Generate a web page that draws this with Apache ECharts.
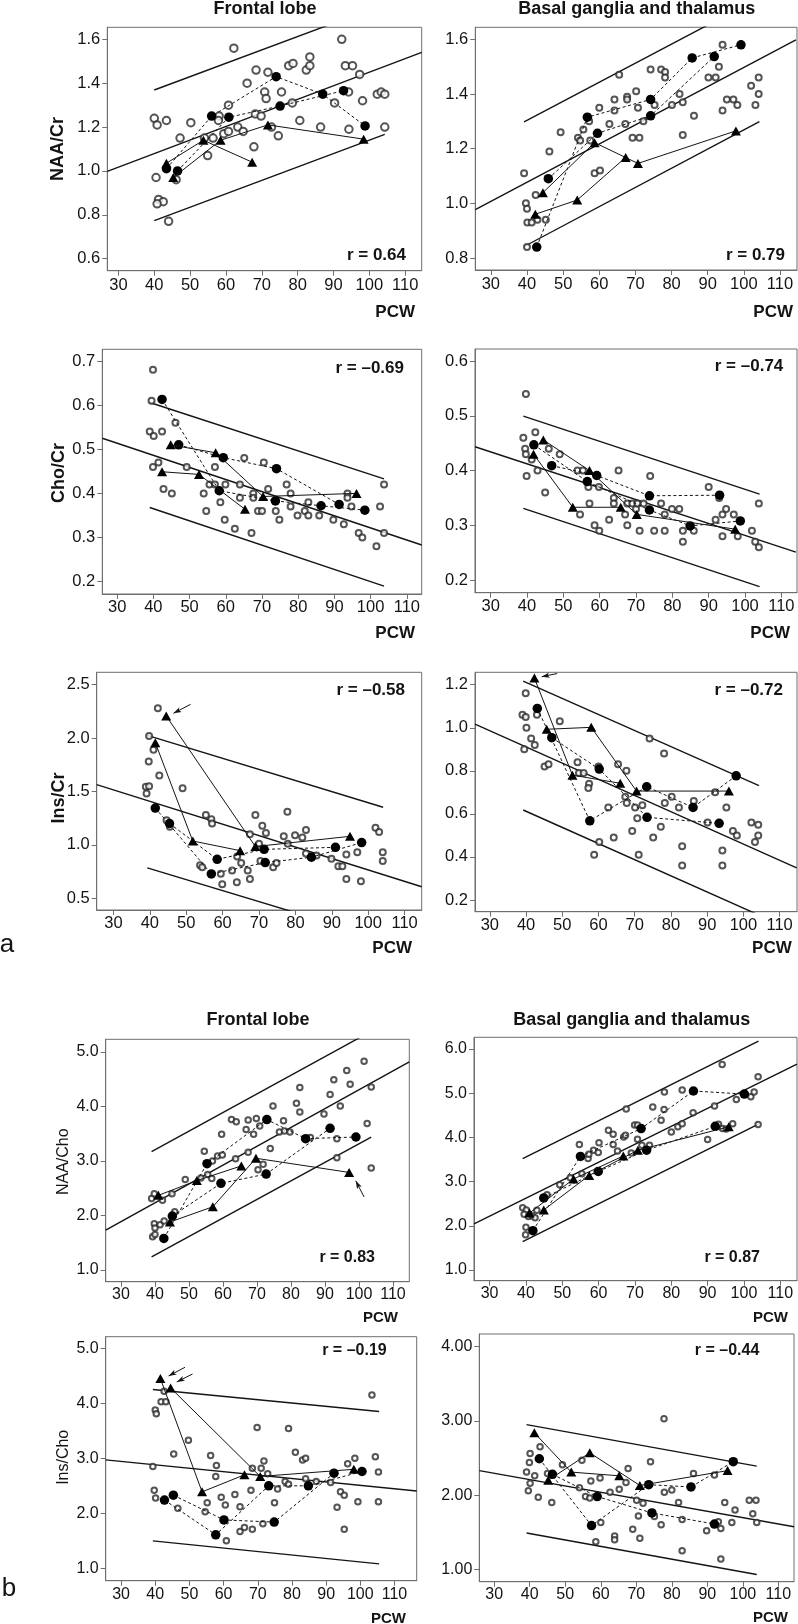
<!DOCTYPE html>
<html><head><meta charset="utf-8">
<script src="https://cdn.jsdelivr.net/npm/echarts@6/dist/echarts.min.js"></script>
<style>html,body{margin:0;padding:0;background:#fff}#c{width:798px;height:1624px}</style>
</head><body><div id="c"></div>
<script>
// ---------------- DATA ----------------
const xTicks = [30,40,50,60,70,80,90,100,110];
const yTicks1 = [0.6,0.8,1.0,1.2,1.4,1.6];
const yTicks2 = [0.8,1.0,1.2,1.4,1.6];
const yTicks3 = [0.2,0.3,0.4,0.5,0.6,0.7];
const yTicks4 = [0.2,0.3,0.4,0.5,0.6];
const yTicks5 = [0.5,1.0,1.5,2.0,2.5];
const yTicks6 = [0.2,0.4,0.6,0.8,1.0,1.2];
const yTicks7 = [1,2,3,4,5];
const yTicks8 = [1,2,3,4,5,6];
const yTicks9 = [1,2,3,4,5];
const yTicks10 = [1,2,3,4];

const titles = ['Frontal lobe','Basal ganglia and thalamus','Frontal lobe','Basal ganglia and thalamus'];
const yNames = ['NAA/Cr','Cho/Cr','Ins/Cr','NAA/Cho','Ins/Cho'];
const rTexts = ['r = 0.64','r = 0.79','r = \u20130.69','r = \u20130.74','r = \u20130.58','r = \u20130.72','r = 0.83','r = 0.87','r = \u20130.19','r = \u20130.44'];
const xName = 'PCW';
const partLabels = ['a','b'];

// Panel 1: Frontal lobe NAA/Cr
const p1Open = [[40.0,1.24],[40.8,1.21],[43.4,1.23],[47.2,1.15],[50.2,1.22],[40.5,0.97],[41.2,0.87],[42.5,0.86],[40.8,0.85],[44.0,0.77],[46.1,0.96],[54.9,1.07],[54.0,1.15],[56.4,1.15],[58.1,1.25],[57.9,1.23],[59.4,1.17],[60.7,1.18],[60.7,1.30],[63.3,1.20],[64.8,1.18],[62.2,1.56],[65.9,1.40],[68.4,1.46],[68.2,1.26],[67.8,1.11],[69.8,1.25],[70.8,1.36],[71.2,1.33],[71.7,1.45],[72.7,1.20],[74.6,1.16],[75.5,1.36],[78.5,1.31],[77.5,1.48],[78.7,1.49],[80.6,1.23],[82.4,1.46],[83.4,1.48],[83.4,1.52],[86.4,1.20],[90.3,1.31],[92.3,1.60],[93.3,1.48],[95.3,1.48],[94.2,1.36],[94.3,1.19],[97.3,1.44],[98.1,1.32],[102.2,1.35],[103.3,1.36],[104.3,1.35],[104.3,1.20]];
const p1Dashed = [[[43.4,1.01],[56.0,1.25],[74.0,1.43],[87.0,1.35],[98.8,1.205]],[[46.5,1.00],[60.8,1.245],[75.1,1.296],[92.8,1.366]]];
const p1Solid = [[[43.4,1.035],[53.7,1.14],[67.3,1.04]],[[45.3,0.97],[58.5,1.14],[71.7,1.21],[98.4,1.145]]];
const p1Fit = [[[26.9,0.998],[114.6,1.541]],[[40.0,1.369],[104.3,1.761]],[[40.0,0.773],[104.3,1.167]]];

// Panel 2: Basal ganglia NAA/Cr
const p2Open = [[39.2,1.11],[39.7,1.00],[40.0,0.98],[40.1,0.93],[41.3,0.93],[42.9,0.94],[42.4,1.03],[40.0,0.84],[45.2,0.94],[46.2,1.19],[49.3,1.26],[54.1,1.24],[54.7,1.23],[55.6,1.27],[57.2,1.30],[57.5,1.23],[60.0,1.35],[58.7,1.11],[60.2,1.12],[62.8,1.29],[64.2,1.38],[64.2,1.34],[65.5,1.47],[67.2,1.29],[67.7,1.39],[67.7,1.38],[69.2,1.24],[70.2,1.41],[70.7,1.35],[71.1,1.24],[72.2,1.30],[74.2,1.49],[75.3,1.36],[77.1,1.49],[78.2,1.48],[78.2,1.46],[80.1,1.36],[82.2,1.40],[83.1,1.37],[83.1,1.25],[86.2,1.32],[90.2,1.46],[92.2,1.46],[93.1,1.50],[94.1,1.58],[94.1,1.34],[95.3,1.38],[97.1,1.38],[98.2,1.36],[102.0,1.43],[103.2,1.36],[104.1,1.40],[104.1,1.46]];
const p2Dashed = [[[42.7,0.84],[56.7,1.315],[74.2,1.38],[85.7,1.532],[99.2,1.58]],[[45.9,1.09],[59.5,1.256],[74.2,1.32],[91.8,1.537]]];
const p2Solid = [[[44.4,1.039],[58.7,1.222],[70.7,1.146],[97.8,1.265]],[[42.3,0.96],[53.9,1.012],[67.3,1.168]]];
const p2Fit = [[[25.7,0.977],[114.4,1.598]],[[39.2,1.298],[104.3,1.752]],[[39.2,0.842],[104.3,1.299]]];

// Panel 3: Frontal lobe Cho/Cr
const p3Open = [[39.9,0.68],[39.5,0.61],[39.0,0.54],[40.1,0.53],[42.4,0.54],[39.9,0.46],[41.4,0.47],[42.8,0.41],[45.1,0.40],[46.1,0.56],[49.2,0.46],[53.9,0.40],[54.6,0.36],[55.5,0.42],[57.0,0.42],[57.0,0.46],[58.5,0.38],[59.7,0.34],[59.9,0.42],[62.5,0.32],[63.9,0.42],[63.9,0.39],[65.1,0.48],[67.1,0.31],[67.6,0.40],[67.6,0.39],[68.9,0.36],[70.0,0.36],[70.5,0.47],[71.7,0.41],[73.8,0.36],[74.8,0.34],[76.8,0.42],[77.9,0.40],[77.9,0.37],[79.8,0.35],[81.8,0.36],[82.8,0.38],[82.8,0.35],[85.8,0.35],[89.7,0.34],[92.6,0.33],[93.6,0.40],[93.6,0.39],[94.7,0.37],[96.7,0.31],[97.7,0.30],[101.6,0.28],[102.6,0.37],[103.7,0.42],[103.7,0.31]];
const p3Dashed = [[[42.4,0.613],[58.2,0.406],[73.7,0.383],[86.3,0.372],[98.4,0.362]],[[47.0,0.51],[59.3,0.481],[74.0,0.456],[91.3,0.375]]];
const p3Solid = [[[44.8,0.51],[57.2,0.492],[70.3,0.393],[96.1,0.40]],[[42.4,0.449],[52.6,0.443],[65.3,0.364]]];
const p3Fit = [[[25.9,0.525],[114.1,0.283]],[[39.0,0.606],[103.7,0.433]],[[39.0,0.368],[103.7,0.190]]];

// Panel 4: Basal ganglia Cho/Cr
const p4Open = [[39.7,0.54],[39.0,0.46],[39.5,0.44],[39.7,0.43],[41.3,0.42],[42.3,0.47],[39.9,0.39],[42.9,0.40],[45.0,0.36],[46.0,0.44],[49.0,0.43],[53.9,0.40],[55.4,0.40],[54.6,0.32],[56.9,0.37],[57.2,0.34],[58.6,0.30],[59.8,0.37],[59.9,0.29],[62.6,0.31],[63.9,0.35],[63.9,0.34],[65.2,0.40],[67.0,0.32],[67.6,0.34],[67.6,0.30],[69.0,0.34],[70.0,0.33],[70.4,0.34],[71.0,0.29],[72.1,0.34],[73.9,0.39],[75.0,0.29],[76.9,0.34],[77.9,0.32],[77.9,0.29],[79.9,0.33],[81.9,0.33],[82.9,0.29],[82.9,0.27],[85.9,0.29],[90.0,0.37],[91.9,0.31],[92.9,0.35],[93.8,0.32],[93.8,0.28],[94.8,0.33],[96.9,0.32],[98.0,0.28],[101.9,0.29],[102.8,0.27],[103.8,0.34],[103.8,0.26]];
const p4Dashed = [[[41.9,0.447],[56.6,0.380],[73.7,0.328],[84.9,0.299],[98.7,0.308]],[[46.8,0.409],[59.2,0.391],[73.7,0.354],[93.0,0.355]]];
const p4Solid = [[[44.5,0.456],[57.2,0.400],[70.2,0.320],[97.3,0.293]],[[41.8,0.430],[52.6,0.333],[65.8,0.333]]];
const p4Fit = [[[25.7,0.4435],[114.0,0.251]],[[39.0,0.4995],[104.0,0.357]],[[39.0,0.331],[104.0,0.188]]];

// Panel 5: Frontal lobe Ins/Cr
const p5Open = [[42.2,2.28],[39.8,2.02],[41.0,1.89],[39.7,1.78],[42.6,1.65],[38.9,1.545],[39.8,1.55],[39.1,1.48],[49.0,1.53],[44.6,1.23],[45.5,1.17],[55.4,1.28],[56.9,1.24],[57.1,1.20],[53.8,0.81],[54.4,0.79],[59.5,0.73],[59.9,0.63],[62.6,0.76],[63.9,0.65],[64.0,0.89],[65.1,0.83],[66.9,0.76],[67.5,0.68],[67.5,1.10],[69.0,1.28],[70.0,1.01],[70.4,0.85],[70.9,1.18],[71.9,1.11],[73.9,0.79],[74.8,0.83],[76.8,1.08],[77.8,1.31],[77.9,1.01],[79.9,1.09],[81.9,1.07],[82.9,1.14],[82.9,0.92],[85.8,0.90],[89.9,0.87],[91.8,0.80],[92.9,0.80],[94.0,0.91],[94.0,0.68],[97.0,0.93],[98.0,0.66],[102.0,1.16],[103.0,1.12],[104.0,0.93],[104.0,0.85]];
const p5Dashed = [[[41.5,1.345],[56.9,0.728],[71.7,0.834],[84.4,0.884],[98.2,1.021]],[[45.4,1.20],[58.5,0.865],[71.4,0.958],[91.0,0.977]]];
const p5Solid = [[[44.5,2.207],[69.0,0.984],[95.0,1.08]],[[41.5,1.957],[51.8,1.036],[64.8,0.946]]];
const p5Fit = [[[25.4,1.564],[114.7,0.608]],[[39.3,2.025],[104.1,1.352]],[[39.3,0.784],[104.1,0.118]]];
const p5Arrows = [[[51.2,2.316],[46.5,2.232]]];

// Panel 6: Basal ganglia Ins/Cr
const p6Open = [[39.9,1.16],[39.0,1.06],[39.9,1.05],[40.1,1.00],[41.4,0.95],[42.4,0.92],[39.5,0.90],[43.0,1.06],[45.1,0.82],[46.2,0.83],[49.3,1.03],[54.2,0.84],[54.6,0.79],[55.9,0.79],[57.4,0.74],[57.2,0.72],[60.0,0.82],[58.8,0.41],[60.2,0.47],[62.7,0.63],[64.2,0.49],[65.4,0.83],[67.4,0.68],[67.7,0.80],[67.8,0.65],[69.3,0.52],[70.1,0.63],[70.7,0.58],[71.1,0.41],[72.1,0.64],[74.1,0.95],[75.1,0.49],[77.2,0.54],[78.1,0.88],[78.3,0.65],[80.2,0.68],[82.2,0.63],[83.1,0.45],[83.1,0.36],[86.3,0.66],[90.1,0.56],[92.2,0.70],[94.2,0.43],[94.2,0.36],[95.3,0.63],[97.1,0.52],[98.2,0.50],[102.2,0.56],[103.2,0.47],[104.1,0.55],[104.1,0.50]];
const p6Dashed = [[[43.1,1.090],[57.6,0.568],[73.3,0.726],[86.1,0.630],[98.0,0.777]],[[47.1,0.954],[60.2,0.808],[73.4,0.584],[93.3,0.556]]];
const p6Solid = [[[42.3,1.231],[52.8,0.780],[66.0,0.742]],[[45.7,0.993],[58.0,1.002],[70.5,0.706],[96.0,0.706]]];
const p6Fit = [[[25.9,1.017],[114.7,0.349]],[[39.2,1.217],[104.3,0.731]],[[39.2,0.618],[104.3,0.130]]];
const p6Arrows = [[[48.6,1.252],[44.3,1.237]]];

// Panel 7: Frontal lobe NAA/Cho
const p7Open = [[39.0,2.31],[39.8,2.40],[42.2,2.28],[45.0,2.40],[39.8,1.85],[40.0,1.77],[41.5,1.83],[42.7,1.90],[39.3,1.61],[40.0,1.65],[45.8,2.07],[48.9,2.66],[53.5,2.69],[54.5,3.18],[55.5,2.75],[56.7,2.68],[56.9,3.00],[58.4,3.09],[59.8,3.11],[59.6,3.49],[62.5,3.76],[63.9,3.72],[63.7,3.04],[66.8,3.58],[67.4,3.75],[67.4,3.16],[69.0,3.49],[69.8,3.78],[70.3,2.84],[70.8,3.64],[71.8,2.94],[73.9,3.23],[74.7,4.01],[76.6,3.53],[77.8,3.74],[78.1,3.55],[79.7,3.53],[81.6,4.06],[82.6,4.35],[82.6,3.90],[85.7,3.43],[89.7,3.86],[91.5,4.22],[92.6,4.49],[94.5,4.01],[93.5,3.41],[93.5,3.06],[96.4,4.66],[97.4,4.41],[101.5,4.83],[102.4,3.69],[103.6,4.36],[103.6,2.87]];
const p7Dashed = [[[42.6,1.58],[55.3,2.95],[72.9,3.76],[84.3,3.41],[99.1,3.44]],[[45.1,1.99],[59.4,2.59],[72.7,2.76],[91.5,3.60]]];
const p7Solid = [[[41.0,2.37],[52.3,2.64],[65.4,2.91]],[[44.4,1.88],[57.0,2.16],[69.7,3.05],[97.1,2.79]]];
const p7Fit = [[[25.5,1.733],[114.8,4.82]],[[39.0,3.17],[103.6,5.38]],[[39.0,1.24],[103.6,3.44]]];
const p7Arrows = [[[101.5,2.34],[99.05,2.636]]];

// Panel 8: Basal ganglia NAA/Cho
const p8Open = [[39.1,2.41],[40.1,2.36],[39.5,2.26],[40.7,2.21],[41.7,2.23],[42.5,2.18],[43.0,2.35],[40.0,1.97],[39.9,1.80],[45.8,2.70],[49.3,2.93],[52.2,3.09],[54.7,3.84],[55.4,3.18],[57.1,3.52],[57.3,3.62],[58.6,3.71],[59.9,3.66],[60.1,3.88],[62.7,4.16],[64.0,4.07],[64.0,3.84],[65.2,3.69],[66.9,4.01],[67.4,4.05],[67.6,4.64],[69.0,3.65],[69.9,4.28],[70.7,3.96],[70.7,4.28],[71.9,3.82],[74.0,3.82],[74.9,4.69],[77.2,4.39],[78.0,4.63],[78.1,5.03],[80.0,4.12],[81.8,4.24],[83.0,4.31],[83.0,5.07],[86.0,4.56],[90.0,3.95],[91.9,4.71],[93.0,4.30],[94.0,5.65],[94.1,4.20],[95.1,4.19],[96.9,4.31],[97.9,4.86],[101.9,4.92],[102.8,5.03],[103.9,5.37],[103.9,4.29]];
const p8Dashed = [[[41.9,1.89],[55.0,3.57],[71.7,4.20],[86.1,5.05],[100.1,4.98]],[[44.9,2.63],[59.9,3.23],[73.2,3.71],[92.1,4.25]]];
const p8Solid = [[[41.0,2.29],[53.1,3.06],[66.8,3.58]],[[44.9,2.36],[57.4,3.14],[70.8,3.71],[95.8,4.24]]];
const p8Fit = [[[25.7,2.041],[114.6,5.66]],[[39.1,3.52],[104.0,6.18]],[[39.1,1.64],[104.0,4.30]]];

// Panel 9: Frontal lobe Ins/Cho
const p9Open = [[42.6,4.22],[41.7,4.03],[43.1,4.03],[40.0,3.88],[40.3,3.81],[39.3,2.85],[39.7,2.42],[40.1,2.28],[45.4,3.08],[46.6,2.09],[49.7,3.33],[54.6,2.03],[55.2,2.19],[56.2,3.05],[57.9,2.87],[57.7,2.67],[59.3,2.29],[60.5,2.15],[60.8,1.50],[63.3,2.34],[64.8,2.12],[64.8,1.67],[66.1,1.74],[68.0,2.42],[68.4,1.71],[68.4,2.82],[69.8,3.56],[71.0,2.82],[71.8,2.95],[71.5,1.81],[72.9,2.72],[75.8,2.44],[74.9,2.19],[78.0,2.58],[79.0,2.53],[79.0,3.54],[81.0,3.11],[83.1,2.97],[84.0,3.00],[84.0,2.63],[87.1,2.58],[91.3,2.56],[93.2,2.11],[94.2,2.39],[95.3,2.33],[95.3,1.71],[96.3,2.90],[98.4,3.00],[99.3,2.21],[103.4,4.15],[104.4,3.03],[105.3,2.75],[105.3,2.21]];
const p9Dashed = [[[42.7,2.24],[57.7,1.61],[73.2,2.50],[84.8,2.50],[100.5,2.76]],[[45.3,2.33],[60.1,1.88],[74.8,1.84],[92.3,2.73]]];
const p9Solid = [[[41.5,4.45],[53.7,2.39],[66.1,2.70]],[[44.5,4.28],[70.7,2.67],[98.1,2.80]]];
const p9Fit = [[[25.5,2.971],[116.5,2.405]],[[39.3,4.25],[105.5,3.85]],[[39.3,1.50],[105.5,1.08]]];
const p9Arrows = [[[48.7,4.655],[43.9,4.497]],[[50.9,4.533],[46.3,4.388]]];

// Panel 10: Basal ganglia Ins/Cho
const p10Open = [[39.1,2.31],[40.1,2.56],[39.9,2.44],[40.1,2.16],[39.6,2.06],[41.4,2.26],[42.4,1.97],[42.9,2.65],[45.0,2.29],[46.2,1.90],[49.2,2.41],[54.0,2.10],[54.7,2.47],[55.7,1.98],[56.9,1.96],[57.2,2.19],[58.6,1.37],[60.0,1.63],[59.8,2.23],[62.6,2.04],[63.9,1.45],[63.9,1.40],[65.2,2.08],[67.1,2.17],[67.7,2.36],[69.0,1.54],[70.1,1.93],[70.6,1.72],[71.0,1.42],[71.9,1.89],[74.0,2.45],[75.1,1.71],[77.0,1.60],[77.9,2.04],[80.0,2.07],[81.9,1.90],[82.9,1.67],[82.9,1.25],[86.1,2.29],[89.8,1.52],[92.0,2.27],[93.1,1.64],[93.8,1.55],[93.8,1.14],[94.9,1.90],[96.9,1.63],[97.8,1.80],[101.8,1.93],[102.8,1.75],[103.7,1.93],[103.9,1.63],[77.8,3.03]];
const p10Dashed = [[[42.7,2.49],[57.4,1.59],[73.5,2.14],[85.4,2.11],[97.3,2.45]],[[46.4,2.28],[59.0,1.98],[74.4,1.76],[92.0,1.61]]];
const p10Solid = [[[41.3,2.84],[51.7,2.31],[65.2,2.26]],[[45.2,2.20],[56.9,2.57],[71.0,2.13],[95.7,2.33]]];
const p10Fit = [[[25.8,2.33],[114.4,1.573]],[[39.1,2.95],[103.9,2.39]],[[39.1,1.49],[103.9,0.93]]];

// ---------------- LAYOUT ----------------
const FONT = '"Liberation Sans", Arial, Helvetica, sans-serif';
const panels = [
 {box:[107.3,27.3,421.7,270.7], x:[26.9,114.6], y:[0.545,1.655], yt:yTicks1, dec:1, fs:16.5, xm:6, os:7.5, open:p1Open, dashed:p1Dashed, solid:p1Solid, fit:p1Fit, arrows:[]},
 {box:[475.3,27.3,797,270], x:[25.7,114.7], y:[0.756,1.644], yt:yTicks2, dec:1, fs:16.5, xm:6, os:6, open:p2Open, dashed:p2Dashed, solid:p2Solid, fit:p2Fit, arrows:[]},
 {box:[102.3,349.3,421.7,594], x:[25.9,114.1], y:[0.172,0.7265], yt:yTicks3, dec:1, fs:16.5, xm:5, os:6, open:p3Open, dashed:p3Dashed, solid:p3Solid, fit:p3Fit, arrows:[]},
 {box:[475,349,797,592.7], x:[25.7,114.3], y:[0.177,0.622], yt:yTicks4, dec:1, fs:16.5, xm:5, os:6, open:p4Open, dashed:p4Dashed, solid:p4Solid, fit:p4Fit, arrows:[]},
 {box:[96.7,672.3,421.7,910], x:[25.4,114.7], y:[0.39,2.616], yt:yTicks5, dec:1, fs:16.5, xm:5, os:6, open:p5Open, dashed:p5Dashed, solid:p5Solid, fit:p5Fit, arrows:p5Arrows},
 {box:[475,672.3,797,911.7], x:[25.9,114.8], y:[0.1457,1.2576], yt:yTicks6, dec:1, fs:16.5, xm:5, os:6, open:p6Open, dashed:p6Dashed, solid:p6Solid, fit:p6Fit, arrows:p6Arrows},
 {box:[105.7,1039.3,409.3,1281.7], x:[25.5,114.8], y:[0.785,5.233], yt:yTicks7, dec:1, fs:16, xm:5, os:5.5, open:p7Open, dashed:p7Dashed, solid:p7Solid, fit:p7Fit, arrows:p7Arrows},
 {box:[474,1037.3,797,1280.7], x:[25.7,114.6], y:[0.758,6.265], yt:yTicks8, dec:1, fs:16, xm:5, os:5.5, open:p8Open, dashed:p8Dashed, solid:p8Solid, fit:p8Fit, arrows:[]},
 {box:[105.7,1336.7,416.7,1580.7], x:[25.5,116.5], y:[0.775,5.211], yt:yTicks9, dec:1, fs:16, xm:6, os:5.5, open:p9Open, dashed:p9Dashed, solid:p9Solid, fit:p9Fit, arrows:p9Arrows},
 {box:[479.3,1334,794,1581.7], x:[25.8,114.4], y:[0.833,4.171], yt:yTicks10, dec:2, fs:16, xm:5, os:5.5, open:p10Open, dashed:p10Dashed, solid:p10Solid, fit:p10Fit, arrows:[]}
];
const AX = '#6e6e6e', INK = '#141414';

const grid = [], xAxis = [], yAxis = [], series = [];
panels.forEach((p, i) => {
  const [l, t, r, b] = p.box;
  grid.push({left:l, top:t, width:r-l, height:b-t, show:true, borderColor:AX, borderWidth:1, containLabel:false});
  xAxis.push({gridIndex:i, type:'value', min:p.x[0], max:p.x[1],
    axisLine:{show:true, onZero:false, lineStyle:{color:AX, width:1}},
    axisTick:{show:true, customValues:xTicks, length:5, lineStyle:{color:AX}},
    axisLabel:{customValues:xTicks, margin:p.xm, fontSize:p.fs, color:INK, fontFamily:FONT},
    splitLine:{show:false}});
  yAxis.push({gridIndex:i, type:'value', min:p.y[0], max:p.y[1],
    axisLine:{show:true, onZero:false, lineStyle:{color:AX, width:1}},
    axisTick:{show:true, customValues:p.yt, length:5, lineStyle:{color:AX}},
    axisLabel:{customValues:p.yt, margin:7, fontSize:p.fs, color:INK, fontFamily:FONT,
      formatter: v => Number(v).toFixed(p.dec)},
    splitLine:{show:false}});
  p.fit.forEach(line => series.push({type:'line', xAxisIndex:i, yAxisIndex:i, data:line, symbol:'none',
    lineStyle:{color:INK, width:1.4}, clip:true, silent:true, z:2}));
  series.push({type:'scatter', xAxisIndex:i, yAxisIndex:i, data:p.open, symbol:'emptyCircle', symbolSize:p.os,
    itemStyle:{color:'#2a2a2a', borderColor:'#2a2a2a', borderWidth:0.9}, silent:true, z:3,
    markLine: p.arrows.length ? {silent:true, symbol:['none','arrow'], symbolSize:[4,8], label:{show:false},
      lineStyle:{color:INK, width:1, type:'solid'},
      data: p.arrows.map(a => [{coord:a[0]}, {coord:a[1]}])} : undefined});
  p.dashed.forEach(s => series.push({type:'line', xAxisIndex:i, yAxisIndex:i, data:s, symbol:'circle', symbolSize:9.5,
    itemStyle:{color:'#000'}, lineStyle:{color:INK, width:1, type:[3,2.5]}, silent:true, z:4}));
  p.solid.forEach(s => series.push({type:'line', xAxisIndex:i, yAxisIndex:i, data:s, symbol:'triangle', symbolSize:[10,9],
    itemStyle:{color:'#000'}, lineStyle:{color:INK, width:1}, silent:true, z:5}));
});

function txt(x, y, text, font, align, rot) {
  return {type:'text', x:x, y:y, rotation: rot || 0, silent:true,
    style:{text:text, font:font, fill:INK, align:align || 'center', verticalAlign:'middle',
      textAlign:align || 'center', textVerticalAlign:'middle'}};
}
const B18 = 'bold 18px ' + FONT, B17 = 'bold 17px ' + FONT, B16 = 'bold 16px ' + FONT, B15 = 'bold 15px ' + FONT, R16 = '16px ' + FONT;
const graphics = [
  txt(265, 9, titles[0], B18), txt(636.7, 9, titles[1], B18),
  txt(258, 1020, titles[2], B18), txt(631.7, 1020, titles[3], B18),
  txt(58.3, 149, yNames[0], 'bold 18px ' + FONT, 'center', Math.PI/2),
  txt(58.8, 473, yNames[1], 'bold 18px ' + FONT, 'center', Math.PI/2),
  txt(58.8, 798, yNames[2], 'bold 18px ' + FONT, 'center', Math.PI/2),
  txt(63.3, 1161.7, yNames[3], R16, 'center', Math.PI/2),
  txt(63.7, 1457.3, yNames[4], R16, 'center', Math.PI/2),
  txt(406, 255, rTexts[0], B17, 'right'), txt(785, 255, rTexts[1], B17, 'right'),
  txt(404, 368.3, rTexts[2], B17, 'right'), txt(783.3, 366.7, rTexts[3], B17, 'right'),
  txt(405, 690, rTexts[4], B17, 'right'), txt(783, 690, rTexts[5], B17, 'right'),
  txt(375, 1257.5, rTexts[6], B16, 'right'), txt(760, 1257.5, rTexts[7], B16, 'right'),
  txt(386.7, 1350.7, rTexts[8], B16, 'right'), txt(759.3, 1350.7, rTexts[9], B16, 'right'),
  txt(415, 312.7, xName, B17, 'right'), txt(793, 312.7, xName, B17, 'right'),
  txt(415, 633.3, xName, B17, 'right'), txt(790, 633.3, xName, B17, 'right'),
  txt(412, 948, xName, B17, 'right'), txt(791.7, 948.3, xName, B17, 'right'),
  txt(398, 1318.3, xName, B15, 'right'), txt(788, 1318.3, xName, B15, 'right'),
  txt(406, 1619, xName, B15, 'right'), txt(788, 1618.3, xName, B15, 'right'),
  txt(7, 945, partLabels[0], '26px ' + FONT), txt(9, 1589, partLabels[1], '26px ' + FONT)
];

const chart = echarts.init(document.getElementById('c'), null, {renderer:'canvas'});
chart.setOption({
  animation:false, backgroundColor:'#ffffff',
  textStyle:{fontFamily:FONT},
  grid:grid, xAxis:xAxis, yAxis:yAxis, series:series, graphic:graphics
});
</script></body></html>
